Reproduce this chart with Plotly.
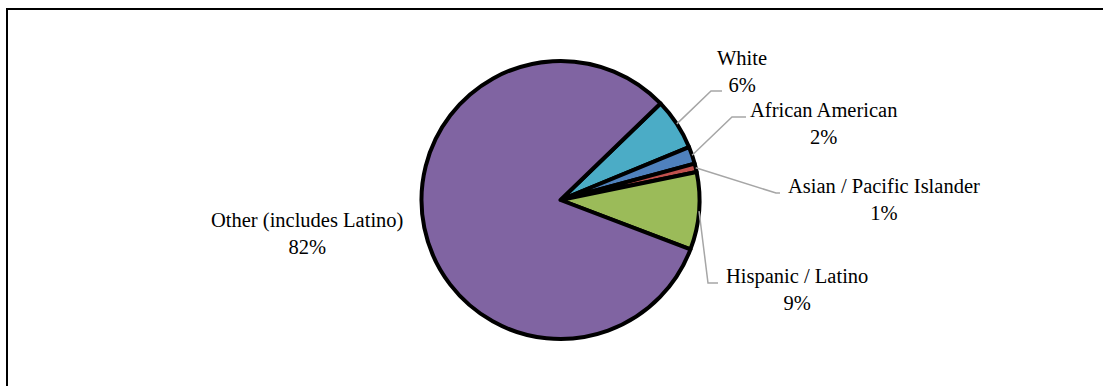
import math
import plotly.graph_objects as go

labels = ["White", "African American", "Asian / Pacific Islander", "Hispanic / Latino", "Other (includes Latino)"]
values = [6, 2, 1, 9, 82]
colors = ["#4BACC6", "#4F81BD", "#C0504D", "#9BBB59", "#8064A2"]

W, H = 1103, 386
CX, CY, R = 560.5, 200.0, 139.0
ROT = 46.0

# label layout (pixel positions): label centre, elbow and end of leader line
label_pos = {
    "White": (742, 71),
    "African American": (823, 123),
    "Asian / Pacific Islander": (884, 199),
    "Hispanic / Latino": (797, 289),
    "Other (includes Latino)": (307, 233),
}
leader = {
    "White": [(711, 91), (722, 91)],
    "African American": [(732, 117), (746, 117)],
    "Asian / Pacific Islander": [(776, 193), (780, 193)],
    "Hispanic / Latino": [(708, 283), (718, 283)],
}

def px(x):
    return x / W

def py(y):
    return 1 - y / H

fig = go.Figure(go.Pie(
    labels=labels, values=values, sort=False, direction="clockwise", rotation=ROT,
    marker=dict(colors=colors, line=dict(color="black", width=4)),
    textinfo="none", hoverinfo="label+percent", showlegend=False,
    domain=dict(x=[px(CX - R), px(CX + R)], y=[py(CY + R), py(CY - R)]),
))

total = sum(values)
cum = 0.0
shapes = []
annotations = []
for lab, v in zip(labels, values):
    mid = ROT + (cum + v / 2) / total * 360
    cum += v
    pct = round(v / total * 100)
    lx, ly = label_pos[lab]
    annotations.append(dict(
        x=px(lx), y=py(ly), xref="paper", yref="paper", showarrow=False,
        xanchor="center", yanchor="middle", align="center",
        text=f"{lab}<br>{pct}%",
        font=dict(family="Liberation Serif", size=20.5, color="black"),
    ))
    if lab in leader:
        a = math.radians(mid)
        sx, sy = CX + R * math.sin(a), CY - R * math.cos(a)
        pts = [(sx, sy)] + leader[lab]
        path = "M " + " L ".join(f"{px(x):.5f},{py(y):.5f}" for x, y in pts)
        shapes.append(dict(type="path", path=path, xref="paper", yref="paper",
                           line=dict(color="#A6A6A6", width=1.5)))

shapes.append(dict(type="rect", xref="paper", yref="paper",
                   x0=px(7), y0=-0.2, x1=1.2, y1=py(9),
                   line=dict(color="black", width=2), fillcolor="rgba(0,0,0,0)"))

fig.update_layout(
    width=W, height=H, margin=dict(l=0, r=0, t=0, b=0),
    paper_bgcolor="white", plot_bgcolor="white",
    font=dict(family="Liberation Serif"),
    shapes=shapes, annotations=annotations,
)
fig.write_html("out.html")
